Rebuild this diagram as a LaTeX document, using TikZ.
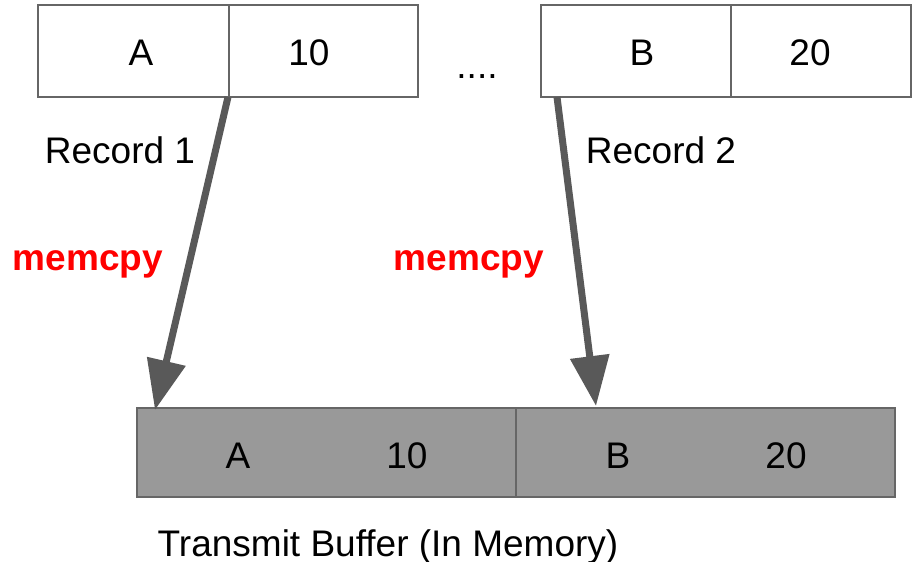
\documentclass[tikz,border=0pt]{standalone}
\usepackage{fontspec}
\setmainfont{Liberation Sans}
\usetikzlibrary{arrows.meta}
\definecolor{edgegray}{HTML}{666666}
\definecolor{arrowgray}{HTML}{595959}
\definecolor{buffill}{HTML}{999999}
\definecolor{memred}{HTML}{FF0000}
\begin{document}
\begin{tikzpicture}[x=1pt,y=-1pt,
  cell/.style={draw=edgegray,line width=1.5pt},
  txt/.style={anchor=base,inner sep=0pt,font=\fontsize{37}{44}\selectfont},
  redtxt/.style={txt,font=\fontsize{37}{44}\selectfont\bfseries,text=memred},
  copyarrow/.style={draw=arrowgray,line width=7pt,-{Triangle[length=50pt,width=38pt]}}]
\useasboundingbox (0,0) rectangle (913,562);
% top record 1
\draw[cell,fill=white] (38,5) rectangle (229,97);
\draw[cell,fill=white] (229,5) rectangle (418,97);
\coordinate (r1) at (228,97);
% top record 2
\draw[cell,fill=white] (541,5) rectangle (731,97);
\draw[cell,fill=white] (731,5) rectangle (911,97);
\coordinate (r2) at (557,97);
% bottom buffer
\draw[cell,fill=buffill] (137,408) rectangle (516,497);
\draw[cell,fill=buffill] (516,408) rectangle (895,497);
\coordinate (t1) at (155,410);
\coordinate (t2) at (596,406);
% texts
\node[txt] (a1) at (141,65) {A};
\node[txt] (n1) at (309,65) {10};
\node[txt] (b1) at (642,65) {B};
\node[txt] (n2) at (810,65) {20};
\node[txt] (dots) at (477,78) {....};
\node[txt] (rec1) at (120,163) {Record 1};
\node[txt] (rec2) at (661,163) {Record 2};
\node[redtxt] (m1) at (88,270) {memcpy};
\node[redtxt] (m2) at (469,270) {memcpy};
\node[txt] (a2) at (238,468) {A};
\node[txt] (n3) at (407,468) {10};
\node[txt] (b2) at (618,468) {B};
\node[txt] (n4) at (786,468) {20};
\node[txt] (cap) at (388,556) {Transmit Buffer (In Memory)};
% arrows
\draw[copyarrow] (r1) -- (t1);
\draw[copyarrow] (r2) -- (t2);
\end{tikzpicture}
\end{document}
